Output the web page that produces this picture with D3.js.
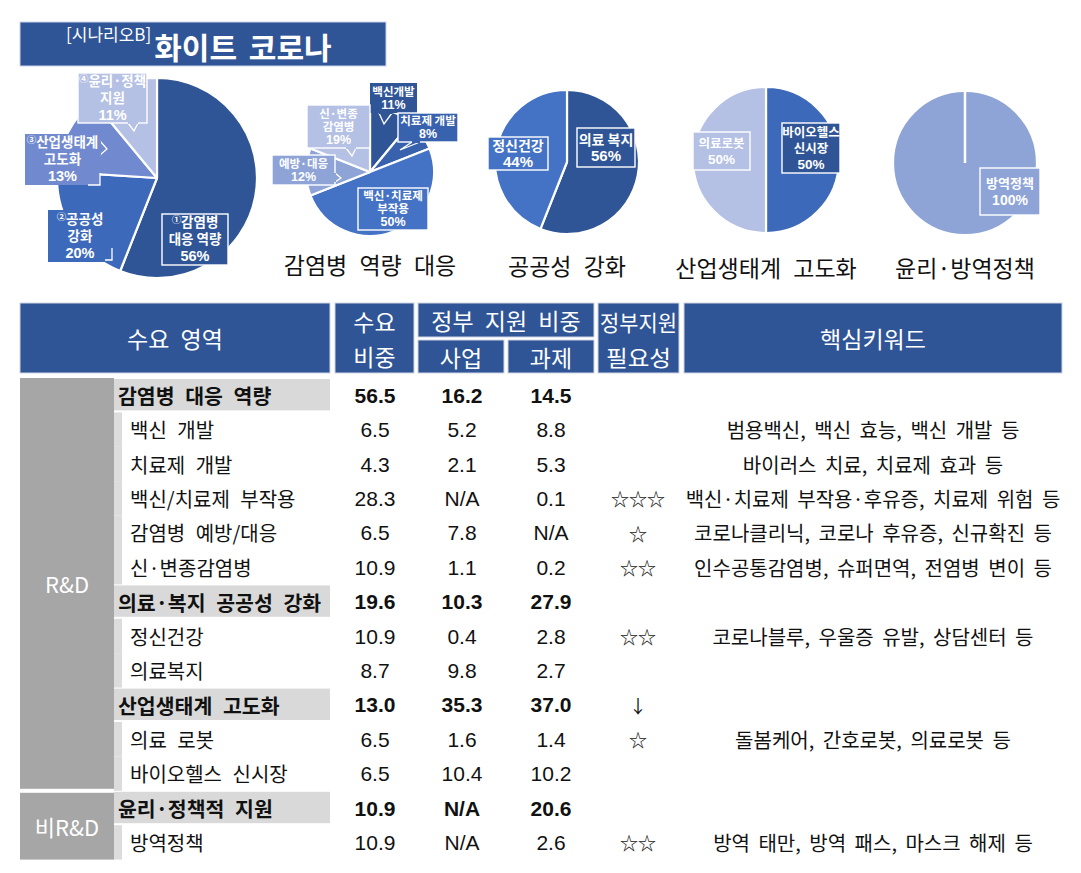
<!DOCTYPE html>
<html><head><meta charset="utf-8">
<script src="https://cdn.jsdelivr.net/npm/d3@7"></script>
<style>
html,body{margin:0;padding:0;background:#fff;}
svg{display:block;font-family:"Liberation Sans","Noto Sans CJK KR",sans-serif;}
</style></head>
<body>
<svg id="chart" width="1081" height="873"></svg>
<script>
// ---------- DATA ----------
const titleSmall = "[시나리오B]";
const titleBig = "화이트 코로나";

// main pie (수요 영역 비중)
const mainMarks = ["①","②","③","④"];
const mainLabels = [["감염병","대응 역량"],["공공성","강화"],["산업생태계","고도화"],["윤리·정책","지원"]];
const mainShares = [56, 20, 13, 11];

// sub pies
const pieCaptions = ["감염병 역량 대응","공공성 강화","산업생태계 고도화","윤리·방역정책"];
const infectLabels = [["백신개발"],["치료제 개발"],["백신·치료제","부작용"],["예방·대응"],["신·변종","감염병"]];
const infectShares = [11, 8, 50, 12, 19];
const publicLabels = [["의료 복지"],["정신건강"]];
const publicShares = [56, 44];
const industryLabels = [["바이오헬스","신시장"],["의료로봇"]];
const industryShares = [50, 50];
const ethicsLabels = [["방역정책"]];
const ethicsShares = [100];

// table
const headerTop = ["수요 영역","수요|비중","정부 지원 비중","정부지원|필요성","핵심키워드"];
const headerSub = ["사업","과제"];
const sectors = ["R&D","비R&D"];
const sectorOfRow = [0,0,0,0,0,0,0,0,0,0,0,0,1,1];
const rowNames = ["감염병 대응 역량","백신 개발","치료제 개발","백신/치료제 부작용","감염병 예방/대응","신·변종감염병",
  "의료·복지 공공성 강화","정신건강","의료복지","산업생태계 고도화","의료 로봇","바이오헬스 신시장","윤리·정책적 지원","방역정책"];
const isGroupRow = [1,0,0,0,0,0,1,0,0,1,0,0,1,0];
const demandShare = ["56.5","6.5","4.3","28.3","6.5","10.9","19.6","10.9","8.7","13.0","6.5","6.5","10.9","10.9"];
const bizShare = ["16.2","5.2","2.1","N/A","7.8","1.1","10.3","0.4","9.8","35.3","1.6","10.4","N/A","N/A"];
const taskShare = ["14.5","8.8","5.3","0.1","N/A","0.2","27.9","2.8","2.7","37.0","1.4","10.2","20.6","2.6"];
const needMarks = ["","","","☆☆☆","☆","☆☆","","☆☆","","↓","☆","","","☆☆"];
const keywords = ["","범용백신, 백신 효능, 백신 개발 등","바이러스 치료, 치료제 효과 등","백신·치료제 부작용·후유증, 치료제 위험 등",
  "코로나클리닉, 코로나 후유증, 신규확진 등","인수공통감염병, 슈퍼면역, 전염병 변이 등","","코로나블루, 우울증 유발, 상담센터 등","",
  "","돌봄케어, 간호로봇, 의료로봇 등","","","방역 태만, 방역 패스, 마스크 해제 등"];

// ---------- STYLE / LAYOUT ----------
const C = {dark:"#2F5597", mid:"#4472C4", mid2:"#3D69BA", mid3:"#3862AE", lite:"#8EA4D7", lite2:"#7189CF", pale:"#B4C0E4"};
const svg = d3.select("#chart");
const KR = "'Noto Sans CJK KR',sans-serif";
const LAT = "'Liberation Sans',sans-serif";

// title
svg.append("rect").attr("x",20).attr("y",22).attr("width",366).attr("height",44).attr("fill",C.dark).attr("stroke","#C9D3E8").attr("stroke-width",1);
const tt = svg.append("text").attr("x",66).attr("y",59).attr("fill","#fff").style("font-family",KR);
tt.append("tspan").attr("font-size",17).attr("dy",-18).text(titleSmall);
tt.append("tspan").attr("font-size",30).attr("font-weight","bold").attr("dy",18).attr("dx",3).attr("word-spacing",5).text(titleBig);

// pie helper
function drawPie(cfg){
  const g = svg.append("g").attr("transform",`translate(${cfg.cx},${cfg.cy})`);
  const pie = d3.pie().sort(null).value(d=>d);
  const arc = d3.arc().innerRadius(0).outerRadius(cfg.r);
  const arcs = pie(cfg.values);
  g.selectAll("path.sl").data(arcs).join("path").attr("class","sl")
    .attr("d",arc).attr("fill",(d,i)=>cfg.colors[i])
    .attr("stroke","#fff").attr("stroke-width",2.2).attr("stroke-linejoin","round");
  if(cfg.values.length===1){
    g.append("line").attr("x1",0).attr("y1",-cfg.r).attr("x2",0).attr("y2",0).attr("stroke","#fff").attr("stroke-width",2.5);
  }
  cfg.values.forEach((v,i)=>{
    const b = cfg.boxes[i];
    const fill = cfg.boxFill ? cfg.boxFill[i] : cfg.colors[i];
    if(b.ptr){
      svg.append("polygon").attr("points",b.ptr.map(p=>p.join(",")).join(" ")).attr("fill",fill);
      svg.append("polyline").attr("points",b.ptr.map(p=>p.join(",")).join(" ")).attr("fill","none").attr("stroke","#fff").attr("stroke-width",1.3);
    }
    svg.append("rect").attr("x",b.x).attr("y",b.y).attr("width",b.w).attr("height",b.h).attr("fill",fill)
      .attr("stroke",b.noBorder?"none":"#fff").attr("stroke-width",1.4);
    if(b.ptr){
      const p=b.ptr;
      svg.append("line").attr("x1",p[0][0]).attr("y1",p[0][1]).attr("x2",p[2][0]).attr("y2",p[2][1]).attr("stroke",fill).attr("stroke-width",2);
    }
    if(b.bracket){
      svg.append("polyline").attr("points",b.bracket.map(p=>p.join(",")).join(" ")).attr("fill","none").attr("stroke","#fff").attr("stroke-width",1.3);
    }
    const lines = cfg.labels[i].concat([Math.round(v)+"%"]);
    const cx = b.x + b.w/2;
    const lh = cfg.lh;
    const y0 = b.y + b.h/2 - (lines.length-1)*lh/2;
    // one text element per label, one tspan per line
    const t = svg.append("text").attr("x",cx).attr("y",y0 + cfg.fs*0.36).attr("text-anchor","middle")
        .attr("fill","#fff").attr("font-weight","bold").attr("font-size",cfg.fs).style("font-family",KR);
    lines.forEach((ln,j)=>{
      const isPct = j===lines.length-1;
      if(j===0 && cfg.marks){
        t.append("tspan").attr("font-size",cfg.fs*0.7).attr("dy",-4).text(cfg.marks[i]);
        t.append("tspan").attr("dy",4).text(ln);
      } else {
        t.append("tspan").attr("x",cx).attr("dy",j===0?0:lh)
          .attr("font-size",isPct?cfg.fs+1:cfg.fs).style("font-family",isPct?LAT:KR).text(ln);
      }
    });
  });
  if(cfg.caption){
    svg.append("text").attr("x",cfg.cx).attr("y",cfg.capY).attr("text-anchor","middle").attr("dominant-baseline","central")
      .attr("font-size",23).attr("word-spacing",7).attr("fill","#111").style("font-family",KR).text(cfg.caption);
  }
}

drawPie({cx:157,cy:178,r:100,values:mainShares,labels:mainLabels,marks:mainMarks,fs:13.5,lh:17,
  colors:[C.dark,C.mid2,C.lite2,C.pale],
  boxes:[
    {x:162,y:214,w:66,h:51},
    {x:48,y:210,w:64,h:52,noBorder:true,bracket:[[105,260],[112,260],[112,248]]},
    {x:25,y:134,w:75,h:51,noBorder:true,ptr:[[100,141],[107,149],[100,155]],bracket:[[88,185],[100,185],[100,173]]},
    {x:78,y:73,w:69,h:50,ptr:[[128,123],[134,131],[138,123]]}
  ]});

drawPie({cx:370,cy:172,r:64,values:infectShares,labels:infectLabels,fs:11.5,lh:13,
  colors:[C.dark,C.mid3,C.mid,C.lite,C.pale],
  caption:pieCaptions[0],capY:264,
  boxes:[
    {x:370,y:83,w:47,h:30,noBorder:true,ptr:[[379,113],[384,124],[392,113]]},
    {x:398,y:113,w:60,h:29,ptr:[[412,142],[400,150],[420,142]]},
    {x:358,y:188,w:70,h:42},
    {x:272,y:155,w:63,h:30,ptr:[[335,173],[341,178],[335,182]]},
    {x:307,y:105,w:63,h:43,ptr:[[346,148],[352,156],[356,148]]}
  ]});

drawPie({cx:567,cy:162,r:72,values:publicShares,labels:publicLabels,fs:14,lh:16,
  colors:[C.dark,C.mid],
  caption:pieCaptions[1],capY:265,
  boxes:[
    {x:577,y:128,w:58,h:39},
    {x:488,y:137,w:60,h:33}
  ]});

drawPie({cx:766,cy:160,r:73,values:industryShares,labels:industryLabels,fs:12.5,lh:16,
  colors:[C.mid2,C.pale],boxFill:[C.dark,C.pale],
  caption:pieCaptions[2],capY:267,
  boxes:[
    {x:782,y:123,w:58,h:50},
    {x:693,y:132,w:57,h:38}
  ]});

drawPie({cx:965,cy:163,r:72,values:ethicsShares,labels:ethicsLabels,fs:13,lh:17,
  colors:[C.lite],
  caption:pieCaptions[3],capY:267,
  boxes:[
    {x:980,y:168,w:60,h:47}
  ]});

// ---------- TABLE ----------
const hdr = svg.append("g");
const hFill = C.dark, hStroke = "#D0D6E2";
const hCells = [
  {x:20,y:303,w:310,h:70,lines:[headerTop[0]]},
  {x:335,y:303,w:79,h:70,lines:headerTop[1].split("|")},
  {x:418,y:303,w:176,h:34,lines:[headerTop[2]]},
  {x:418,y:340,w:86,h:33,lines:[headerSub[0]]},
  {x:508,y:340,w:86,h:33,lines:[headerSub[1]]},
  {x:598,y:303,w:81,h:70,lines:headerTop[3].split("|"),fit:true},
  {x:684,y:303,w:378,h:70,lines:[headerTop[4]]}
];
hCells.forEach(c=>{
  hdr.append("rect").attr("x",c.x).attr("y",c.y).attr("width",c.w).attr("height",c.h).attr("fill",hFill).attr("stroke",hStroke).attr("stroke-width",1);
  const n=c.lines.length, lh=35;
  c.lines.forEach((ln,j)=>{
    const t = hdr.append("text").attr("x",c.x+c.w/2).attr("y",c.y+c.h/2+(j-(n-1)/2)*lh)
      .attr("text-anchor","middle").attr("dominant-baseline","central").attr("fill","#fff")
      .attr("font-size",c.fit?22:23).attr("word-spacing",6).style("font-family",KR).text(ln);
    if(c.fit) t.attr("textLength",j===0?c.w-4:c.w-16).attr("lengthAdjust","spacingAndGlyphs");
  });
});

const y0 = 378, rowH = 34.4;
const rowY = d3.scaleLinear().domain([0,14]).range([y0, y0+14*rowH]);
const body = svg.append("g");
sectors.forEach((s,si)=>{
  const rows = d3.range(14).filter(i=>sectorOfRow[i]===si);
  const top = rowY(d3.min(rows)) + (si>0?2:0), bot = rowY(d3.max(rows)+1) - (si===0?2:0);
  body.append("rect").attr("x",20).attr("y",top).attr("width",94).attr("height",bot-top).attr("fill","#A6A6A6");
  body.append("text").attr("x",67).attr("y",(top+bot)/2).attr("text-anchor","middle").attr("dominant-baseline","central")
    .attr("fill","#fff").attr("font-size",22).style("font-family",KR).text(s);
});
rowNames.forEach((nm,i)=>{
  const top=rowY(i), bot=rowY(i+1);
  if(isGroupRow[i]){
    body.append("rect").attr("x",114).attr("y",top+1).attr("width",216).attr("height",rowH-3).attr("fill","#D9D9D9");
  } else {
    body.append("rect").attr("x",114).attr("y",top).attr("width",8).attr("height",rowH).attr("fill","#DCDCDC");
  }
  const cy=(top+bot)/2;
  const bold = isGroupRow[i]? "bold":"normal";
  body.append("text").attr("x",isGroupRow[i]?118:130).attr("y",cy).attr("dominant-baseline","central")
    .attr("font-size",isGroupRow[i]?20.5:20).attr("word-spacing",6).attr("font-weight",bold).attr("fill","#111").style("font-family",KR).text(nm);
  [[demandShare,375],[bizShare,462],[taskShare,551]].forEach(([arr,x])=>{
    body.append("text").attr("x",x).attr("y",cy).attr("text-anchor","middle").attr("dominant-baseline","central")
      .attr("font-size",21).attr("font-weight",bold).attr("fill","#111").text(arr[i]);
  });
  if(needMarks[i]){
    body.append("text").attr("x",638).attr("y",cy).attr("text-anchor","middle").attr("dominant-baseline","central")
      .attr("font-size",18).attr("fill","#111").style("font-family",KR).text(needMarks[i]);
  }
  if(keywords[i]){
    body.append("text").attr("x",873).attr("y",cy).attr("text-anchor","middle").attr("dominant-baseline","central")
      .attr("font-size",20).attr("word-spacing",4).attr("fill","#111").style("font-family",KR).text(keywords[i]);
  }
});
</script>
</body></html>
